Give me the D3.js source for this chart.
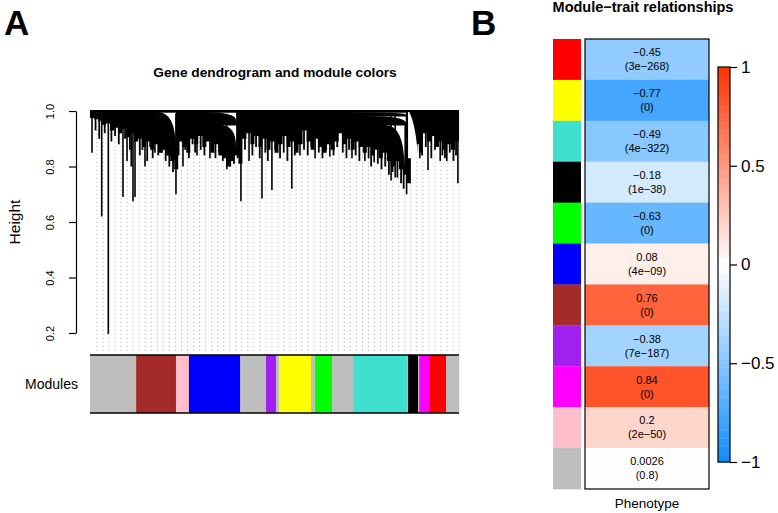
<!DOCTYPE html>
<html><head><meta charset="utf-8">
<script src="https://cdn.jsdelivr.net/npm/d3@7"></script>
<style>body{margin:0;background:#fff;} svg{display:block;font-family:"Liberation Sans",Arial,sans-serif;}</style>
</head><body><svg id="c" width="778" height="513"></svg>
<script>
// ---------- Panel A data ----------
const moduleColors = ["grey","brown","pink","blue","grey","purple","grey","yellow","grey","green","grey","turquoise","grey","black","grey","magenta","red","grey"];
const moduleSizes  = [12.5,10.8,3.5,13.9,7.0,2.7,0.8,8.7,1.1,4.6,5.7,14.6,0.3,2.7,0.3,2.7,4.6,3.5]; // % of genes in dendrogram order
// lower edge of the dense branch mass, evenly spaced along gene order
const profileHeights = [0.975,0.97,0.965,0.95,0.955,0.93,0.94,0.92,0.935,0.905,0.92,0.89,0.90,0.87,0.89,0.86,0.88,0.85,0.86,0.84,0.82,0.79,
  0.89,0.87,0.85,0.90,0.88,0.91,0.87,0.89,0.85,0.88,0.84,0.83,0.80,0.82,0.84,0.81,
  0.90,0.92,0.88,0.91,0.87,0.90,0.86,0.89,0.85,0.88,0.91,0.87,0.89,0.85,0.88,0.93,0.89,0.86,0.90,0.87,0.85,0.88,0.86,0.89,
  0.92,0.88,0.90,0.86,0.89,0.87,0.85,0.87,0.84,0.86,0.83,0.85,0.82,0.80,0.82,0.79,0.77,0.74,
  0.91,0.88,0.85,0.92,0.89,0.91,0.87,0.89,0.86,0.88,0.86,0.89,0.84];
// long single branches: position along gene order (%) and merge height
const spikePos     = [0.54,3.17,4.96,8.94,10.03,11.65,12.2,14.9,17.6,23.3,25.2,29.0,32.5,37.1,40.9,43.1,46.6,49.3,54.7,56.9,61.0,65.0,71.0,74.5,77.0,81.6,82.7,85.8,89.4,91.6,94.9,96.7,99.7];
const spikeHeights = [0.85,0.62,0.196,0.69,0.82,0.675,0.69,0.80,0.85,0.70,0.80,0.84,0.83,0.79,0.675,0.82,0.685,0.715,0.72,0.84,0.83,0.835,0.83,0.82,0.815,0.75,0.76,0.70,0.83,0.787,0.82,0.82,0.74];
// shorter branches hanging below the mass
const twigPos = [1.5,2.5,4,5.8,6.8,7.8,9.5,10.8,11.2,13.5,14.2,15.5,16.3,17,18.5,19.5,20.5,21.5,22.5,
  24,25.8,26.8,27.8,28.5,30,31,33.2,34,35,36,38,39,40,42,44,45,46,47.5,48.2,50.2,51.5,52.5,53.5,55.5,56,
  58,59,60,62,63,64,66,67,68.5,69.5,70.2,72,73,75.5,76.2,78,79,80,81,82,83.3,84.3,85,
  88.5,90,91,92.5,93.5,95.5,96.2,97.5,98.5,99.2];
const twigHeights = [0.93,0.90,0.92,0.89,0.91,0.88,0.90,0.86,0.80,0.84,0.86,0.82,0.87,0.83,0.84,0.85,0.82,0.80,0.78,
  0.84,0.86,0.83,0.88,0.85,0.86,0.84,0.86,0.83,0.85,0.82,0.80,0.81,0.83,0.86,0.84,0.87,0.83,0.85,0.82,0.86,0.83,0.85,0.82,0.84,0.87,
  0.86,0.84,0.87,0.85,0.83,0.86,0.84,0.87,0.85,0.83,0.86,0.84,0.82,0.83,0.80,0.81,0.79,0.80,0.77,0.78,0.76,0.74,0.72,
  0.85,0.84,0.87,0.83,0.86,0.84,0.83,0.85,0.82,0.84];
// open merge regions (white wedges between clusters)
const mergeStart  = [18.2,30.6,35.2,67.8,74.8,79.9,86.2];
const mergeEnd    = [23.2,39.6,39.6,85.6,85.6,85.2,88.9];
const mergeTop    = [0.996,0.996,0.95,0.996,0.982,0.95,0.996];
const mergeBottom = [0.87,0.965,0.87,0.986,0.956,0.80,0.83];
const mergeSide   = ["r","r","r","r","r","r","l"];
const heightTicks = [0.2,0.4,0.6,0.8,1.0];

// ---------- Panel B data ----------
const traitModules = ["red","yellow","turquoise","black","green","blue","brown","purple","magenta","pink","grey"];
const traitCor = [-0.45,-0.77,-0.49,-0.18,-0.63,0.08,0.76,-0.38,0.84,0.2,0.0026];
const traitP   = ["3e-268","0","4e-322","1e-38","0","4e-09","0","7e-187","0","2e-50","0.8"];
const legendTicks = [-1,-0.5,0,0.5,1];

const rcol = {grey:"#BEBEBE",brown:"#A52A2A",pink:"#FFC0CB",blue:"#0000FF",purple:"#A020F0",yellow:"#FFFF00",green:"#00FF00",turquoise:"#40E0D0",black:"#000000",magenta:"#FF00FF",red:"#FF0000"};
const minus = s => String(s).replace(/-/g,"\u2212");

const svg = d3.select("#c");

// ---------- Panel A ----------
const x = d3.scaleLinear().domain([0,100]).range([90,459]);
const y = d3.scaleLinear().domain([0.2,1.0]).range([333,111]);

// guide lines
const guides = d3.range(61).map(i => 97 + i*(459-97)/60);
svg.append("g").selectAll("line").data(guides).join("line")
  .attr("x1",d=>d).attr("x2",d=>d).attr("y1",y(0.99)).attr("y2",353)
  .attr("stroke","#b8b8b8").attr("stroke-width",1).attr("stroke-dasharray","1.3,2.7");

// dense branch mass
const prof = profileHeights.map((h,i)=>[i*100/(profileHeights.length-1), h]);
const area = d3.area().x(d=>x(d[0])).y0(y(1.0)).y1(d=>y(d[1])).curve(d3.curveStepAfter);
svg.append("path").datum(prof).attr("d",area).attr("fill","#000");

// short branches
const twigs = twigPos.map((p,i)=>({p,h:twigHeights[i]}));
svg.append("g").selectAll("line").data(twigs).join("line")
  .attr("x1",d=>x(d.p)).attr("x2",d=>x(d.p)).attr("y1",y(0.99)).attr("y2",d=>y(d.h))
  .attr("stroke","#000").attr("stroke-width",1.8);

// merge wedges
const wedges = mergeStart.map((s,i)=>({s,e:mergeEnd[i],t:mergeTop[i],b:mergeBottom[i],side:mergeSide[i]}));
svg.append("g").selectAll("path").data(wedges).join("path")
  .attr("fill","#fff")
  .attr("d",d=>{
    const x0=x(d.s), x1=x(d.e), yt=y(d.t), yb=y(d.b);
    if(d.side==="r") return `M${x0},${yt}L${x1},${yt}L${x1},${yb}Q${x1},${yt} ${x0},${yt}Z`;
    return `M${x0},${yt}L${x0+1.2},${yt}Q${x1-2},${yt+ (yb-yt)*0.3} ${x1},${yb}L${x0},${yb}Z`;
  });
// merge horizontal lines
svg.append("g").selectAll("line").data(wedges.filter(d=>d.side==="r")).join("line")
  .attr("x1",d=>x(d.s)).attr("x2",d=>x(d.e)).attr("y1",d=>y(d.t)).attr("y2",d=>y(d.t))
  .attr("stroke","#000").attr("stroke-width",1.2);

// long single branches
const spikes = spikePos.map((p,i)=>({p,h:spikeHeights[i]}));
svg.append("g").selectAll("line").data(spikes).join("line")
  .attr("x1",d=>x(d.p)).attr("x2",d=>x(d.p)).attr("y1",y(0.99)).attr("y2",d=>y(d.h))
  .attr("stroke","#000").attr("stroke-width",1.6);

// top merge line
svg.append("line").attr("x1",x(0)).attr("x2",x(100)).attr("y1",y(1.0)).attr("y2",y(1.0))
  .attr("stroke","#000").attr("stroke-width",2);

// y axis
const ax = svg.append("g").attr("transform","translate(76,0)")
  .call(d3.axisLeft(y).tickValues(heightTicks).tickFormat(d3.format(".1f")).tickSize(7).tickSizeOuter(0));
ax.select(".domain").attr("stroke","#000").attr("stroke-width",1.2);
ax.selectAll(".tick line").attr("stroke","#000").attr("stroke-width",1.2);
ax.selectAll(".tick text").attr("x",null).attr("dy",null)
  .attr("transform","translate(-22,0) rotate(-90)").attr("text-anchor","middle")
  .attr("font-size",11).attr("font-family","Liberation Sans, Arial, sans-serif").attr("fill","#000");

svg.append("text").attr("transform","translate(20,222) rotate(-90)").attr("text-anchor","middle")
  .attr("font-size",15.5).text("Height");

// module colour bar
let cum = 0;
const segs = moduleSizes.map((s,i)=>{const o={a:cum,b:cum+s,c:moduleColors[i]}; cum+=s; return o;});
svg.append("g").selectAll("rect").data(segs).join("rect")
  .attr("x",d=>x(d.a)).attr("width",d=>x(d.b)-x(d.a)+0.3).attr("y",355).attr("height",58)
  .attr("fill",d=>rcol[d.c]);
[355,413].forEach(yy=>svg.append("line").attr("x1",x(0)).attr("x2",x(100)).attr("y1",yy).attr("y2",yy)
  .attr("stroke","#000").attr("stroke-width",1.5));
svg.append("text").attr("x",78).attr("y",389).attr("text-anchor","end").attr("font-size",14).text("Modules");

svg.append("text").attr("x",275).attr("y",77).attr("text-anchor","middle").attr("font-weight","bold")
  .attr("font-size",13.7).text("Gene dendrogram and module colors");
svg.append("text").attr("x",4).attr("y",35).attr("font-weight","bold").attr("font-size",35).text("A");
svg.append("text").attr("x",471).attr("y",35).attr("font-weight","bold").attr("font-size",35).text("B");

// ---------- Panel B ----------
const color = d3.scaleLinear().domain([-1,0,1]).range(["rgb(13,140,255)","#ffffff","rgb(255,51,0)"]);
const yb = d3.scaleBand().domain(traitModules).range([39,489]);

svg.append("g").selectAll("rect").data(traitModules).join("rect")
  .attr("x",553).attr("width",28).attr("y",d=>yb(d)).attr("height",yb.bandwidth()+0.3)
  .attr("fill",d=>rcol[d]);

const cells = traitModules.map((m,i)=>({m,r:traitCor[i],p:traitP[i]}));
const cg = svg.append("g");
cg.selectAll("rect").data(cells).join("rect")
  .attr("x",585).attr("width",124).attr("y",d=>yb(d.m)).attr("height",yb.bandwidth()+0.3)
  .attr("fill",d=>color(d.r));
cg.selectAll("text.r").data(cells).join("text").attr("class","r")
  .attr("x",647).attr("y",d=>yb(d.m)+yb.bandwidth()/2-7).attr("dy","0.35em")
  .attr("text-anchor","middle").attr("font-size",11).text(d=>minus(d.r));
cg.selectAll("text.p").data(cells).join("text").attr("class","p")
  .attr("x",647).attr("y",d=>yb(d.m)+yb.bandwidth()/2+7).attr("dy","0.35em")
  .attr("text-anchor","middle").attr("font-size",11).text(d=>"("+minus(d.p)+")");
svg.append("rect").attr("x",585).attr("y",39).attr("width",124).attr("height",450)
  .attr("fill","none").attr("stroke","#000").attr("stroke-width",1.2);

svg.append("text").attr("x",647).attr("y",508).attr("text-anchor","middle").attr("font-size",13.5).text("Phenotype");
svg.append("text").attr("x",643).attr("y",12).attr("text-anchor","middle").attr("font-weight","bold")
  .attr("font-size",14.5).text("Module\u2212trait relationships");

// colour legend
const yl = d3.scaleLinear().domain([-1,1]).range([462,67]);
const steps = d3.range(50).map(i=>-1+i*0.04);
svg.append("g").selectAll("rect").data(steps).join("rect")
  .attr("x",718).attr("width",12).attr("y",d=>yl(d+0.04)).attr("height",d=>yl(d)-yl(d+0.04)+0.4)
  .attr("fill",d=>color(d+0.02));
svg.append("rect").attr("x",718).attr("y",67).attr("width",12).attr("height",395)
  .attr("fill","none").attr("stroke","#000").attr("stroke-width",1.2);
const lax = svg.append("g").attr("transform","translate(730,0)")
  .call(d3.axisRight(yl).tickValues(legendTicks).tickSize(7).tickSizeOuter(0).tickFormat(d=>minus(d)));
lax.select(".domain").remove();
lax.selectAll(".tick line").attr("stroke","#000").attr("stroke-width",1.2);
lax.selectAll(".tick text").attr("x",11).attr("font-size",17).attr("font-family","Liberation Sans, Arial, sans-serif").attr("fill","#000");
</script></body></html>
